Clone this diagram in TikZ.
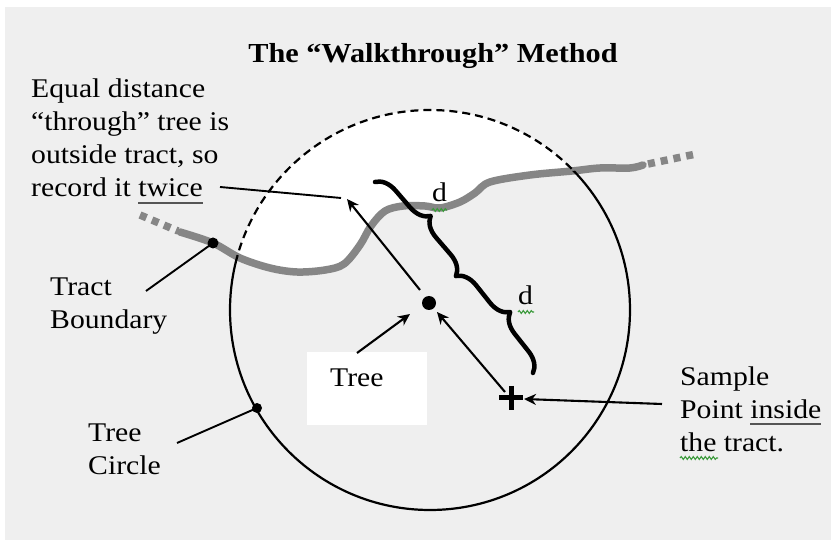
\documentclass[tikz,border=0pt]{standalone}
\usepackage{fontspec}
\setmainfont{Liberation Serif}[FakeStretch=1.1]
\usetikzlibrary{arrows.meta,decorations.pathreplacing,decorations.pathmorphing}
\definecolor{bg}{HTML}{EFEFEF}
\definecolor{bndgray}{HTML}{868686}
\definecolor{ulgray}{HTML}{555555}
\definecolor{squig}{HTML}{3C9A3C}
\newcommand\myul[1]{\setbox0\hbox{#1}\rlap{\color{ulgray}\rule[-7pt]{\wd0}{2pt}}\box0}
\newcommand\bndpath{plot[smooth,tension=0.55] coordinates {(180,232) (213,243) (240,258) (270,268) (297,272) (325,270) (344,264) (360,245) (371,226) (385,211) (403,206) (425,206) (440,208) (460,202) (475,193) (490,182) (530,175) (572,171) (600,168) (630,168) (643,165)}}
\begin{document}
\begin{tikzpicture}[x=1pt,y=-1pt,
  txt/.style={font=\fontsize{27}{33}\selectfont, inner sep=0pt, anchor=base west},
  ttl/.style={font=\fontsize{27.5}{33}\selectfont\bfseries, inner sep=0pt, anchor=base},
  bnd/.style={line width=7.5pt, draw=bndgray, line cap=round, line join=round},
  bndext/.style={line width=7.5pt, draw=bndgray, dash pattern=on 7pt off 6pt},
  arr/.style={line width=2.1pt, -{Stealth[length=12pt,width=11pt]}},
  leader/.style={line width=1.9pt},
  dotn/.style={circle, fill=black, inner sep=0pt, minimum size=#1},
  brc/.style={decorate, decoration={brace, amplitude=20pt}, line width=4.5pt, line cap=round, line join=round},
  squiggle/.style={draw=squig, line width=1.1pt, decorate, decoration={snake, segment length=4pt, amplitude=1.4pt}},
  circ/.style={line width=2.2pt}]
\useasboundingbox (0,0) rectangle (831,540);
\fill[bg] (5,7) rectangle (831,540);
% outside-tract part of the circle
\begin{scope}
  \clip \bndpath -- (643,0) -- (180,0) -- cycle;
  \fill[white] (430,310) circle[radius=200];
\end{scope}
% tract boundary
\draw[bnd] \bndpath;
\draw[bndext] (140,215) -- (178,231);
\draw[bndext] (648,164) -- (696,154);
% circle: dashed above the boundary, solid below
\begin{scope}
  \clip \bndpath -- (643,0) -- (180,0) -- cycle;
  \draw[circ, dash pattern=on 8pt off 5pt] (430,310) circle[radius=200];
\end{scope}
\begin{scope}
  \clip \bndpath -- (643,540) -- (180,540) -- cycle;
  \draw[circ] (430,310) circle[radius=200];
\end{scope}
% braces
\coordinate (b0) at (375,182);
\coordinate (b1) at (456,276);
\coordinate (b2) at (533,373);
\draw[brc] (b0) -- (b1);
\draw[brc] (b1) -- (b2);
\node[txt] (d1) at (432,202) {d};
\node[txt] (d2) at (518,305) {d};
\draw[squiggle] (432,210) -- (447,210);
\draw[squiggle] (518,312) -- (534,312);
% dots
\node[dotn=11pt] (bdot) at (213,243) {};
\node[dotn=10pt] (cdot) at (257,408) {};
\node[dotn=14pt] (tree) at (429,303) {};
% sample point
\coordinate (sp) at (511,398);
\draw[line width=5pt] (499,398) -- (523,398) (511,386) -- (511,410);
% tree label box
\node[fill=white, inner sep=0pt, minimum width=120pt, minimum height=73pt, anchor=north west] (treebox) at (307,352) {};
\node[txt] (treelbl) at (330,387) {Tree};
% texts
\node[ttl] (title) at (433,63) {The “Walkthrough” Method};
\node[txt] (e1) at (31,98) {Equal distance};
\node[txt] (e2) at (31,131) {“through” tree is};
\node[txt] (e3) at (31,164) {outside tract, so};
\node[txt] (e4) at (31,197) {record it \myul{twice}};
\node[txt] (t1) at (50,296) {Tract};
\node[txt] (t2) at (50,329) {Boundary};
\node[txt] (c1) at (88,442) {Tree};
\node[txt] (c2) at (88,474) {Circle};
\node[txt] (s1) at (680,385) {Sample};
\node[txt] (s2) at (680,418) {Point \myul{inside}};
\node[txt] (s3) at (680,451) {the tract.};
\draw[squiggle] (680,458) -- (718,458);
% connector end points
\coordinate (twiceend) at (220,187);
\coordinate (uptip) at (341,198);
\coordinate (treetail) at (420,290);
\coordinate (uparr) at (347,199);
\coordinate (tbtail) at (357,353);
\coordinate (tbtip) at (410,314);
\coordinate (sptail) at (505,392);
\coordinate (sptip) at (437,312);
\coordinate (sltail) at (662,404);
\coordinate (sltip) at (524,399);
\coordinate (tractend) at (146,291);
\coordinate (circend) at (177,443);
% connectors
\draw[arr] (treetail) -- (uparr);
\draw[leader] (twiceend) -- (uptip);
\draw[arr] (tbtail) -- (tbtip);
\draw[arr] (sptail) -- (sptip);
\draw[arr] (sltail) -- (sltip);
\draw[leader] (tractend) -- (bdot.center);
\draw[leader] (circend) -- (cdot.center);
\end{tikzpicture}
\end{document}
